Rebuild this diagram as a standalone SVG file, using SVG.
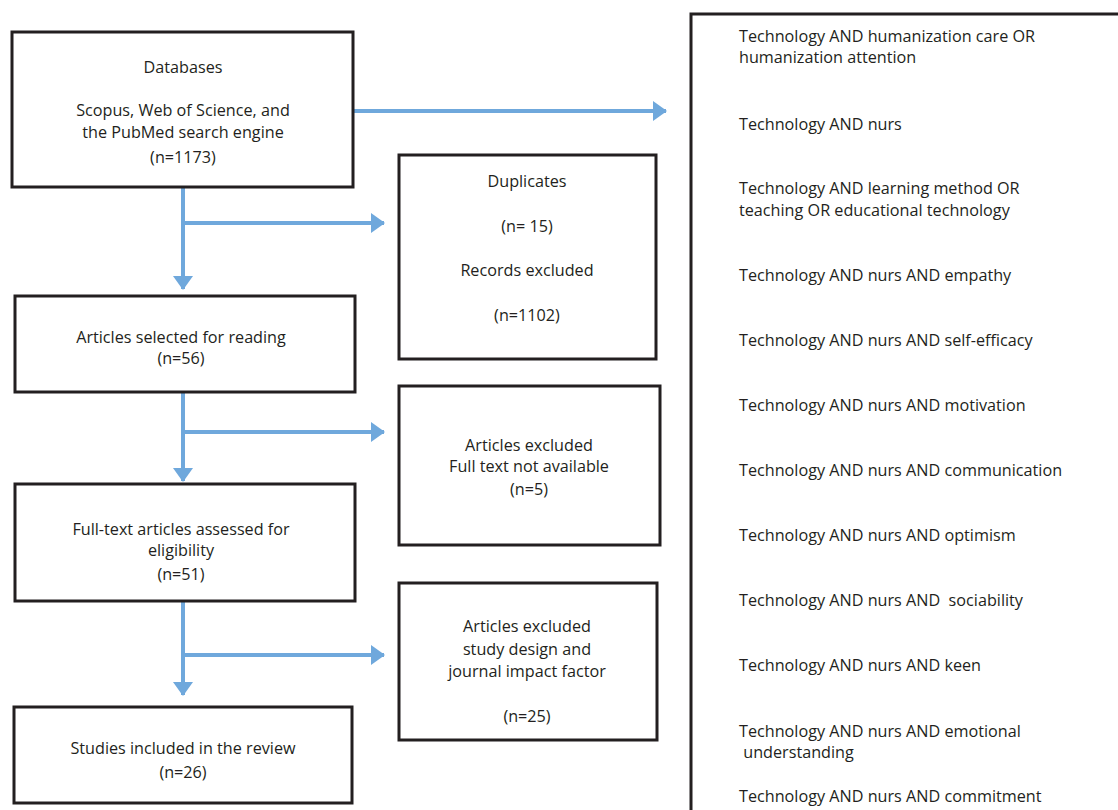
<svg xmlns="http://www.w3.org/2000/svg" width="1118" height="810" viewBox="0 0 1118 810">
<defs>
<style>
.box{fill:#fff;stroke:#231f20;stroke-width:3}
.t{font-family:"Open Sans","Liberation Sans",sans-serif;font-size:16.2px;fill:#231f20}
.c{text-anchor:middle}
.ln{fill:none;stroke:#6fa8dc;stroke-width:4}
</style>
<marker id="ah" markerUnits="userSpaceOnUse" markerWidth="14" markerHeight="20" refX="13" refY="10" orient="auto">
<path d="M0,0 L14,10 L0,20 Z" fill="#6fa8dc"/>
</marker>
</defs>
<rect width="1118" height="810" fill="#fff"/>
<g id="connectors">
<path class="ln" d="M354,111 H666" marker-end="url(#ah)"/>
<path class="ln" d="M183,187 V289" marker-end="url(#ah)"/>
<path class="ln" d="M183,223 H384" marker-end="url(#ah)"/>
<path class="ln" d="M183,392 V481" marker-end="url(#ah)"/>
<path class="ln" d="M183,432 H384" marker-end="url(#ah)"/>
<path class="ln" d="M183,601 V695" marker-end="url(#ah)"/>
<path class="ln" d="M183,655 H384" marker-end="url(#ah)"/>
</g>
<g id="databases">
<rect class="box" x="12" y="32" width="341" height="155"/>
<text class="t c" x="183" y="73">Databases</text>
<text class="t c" x="183" y="116">Scopus, Web of Science, and</text>
<text class="t c" x="183" y="138">the PubMed search engine</text>
<text class="t c" x="183" y="163">(n=1173)</text>
</g>
<g id="duplicates">
<rect class="box" x="399" y="155" width="257" height="204"/>
<text class="t c" x="527" y="187">Duplicates</text>
<text class="t c" x="527" y="232">(n= 15)</text>
<text class="t c" x="527" y="276">Records excluded</text>
<text class="t c" x="527" y="321">(n=1102)</text>
</g>
<g id="selected">
<rect class="box" x="15" y="296" width="340" height="96"/>
<text class="t c" x="181" y="343">Articles selected for reading</text>
<text class="t c" x="181" y="364">(n=56)</text>
</g>
<g id="excluded1">
<rect class="box" x="399" y="386" width="261" height="159"/>
<text class="t c" x="529" y="451">Articles excluded</text>
<text class="t c" x="529" y="472">Full text not available</text>
<text class="t c" x="529" y="495">(n=5)</text>
</g>
<g id="fulltext">
<rect class="box" x="15" y="484" width="340" height="117"/>
<text class="t c" x="181" y="535">Full-text articles assessed for</text>
<text class="t c" x="181" y="556">eligibility</text>
<text class="t c" x="181" y="580">(n=51)</text>
</g>
<g id="excluded2">
<rect class="box" x="399" y="583" width="258" height="157"/>
<text class="t c" x="527" y="632">Articles excluded</text>
<text class="t c" x="527" y="655">study design and</text>
<text class="t c" x="527" y="677">journal impact factor</text>
<text class="t c" x="527" y="722">(n=25)</text>
</g>
<g id="included">
<rect class="box" x="14" y="707" width="338" height="96"/>
<text class="t c" x="183" y="754">Studies included in the review</text>
<text class="t c" x="183" y="778">(n=26)</text>
</g>
<g id="terms">
<rect class="box" x="691" y="14" width="440" height="810"/>
<text class="t" x="739" y="42">Technology AND humanization care OR</text>
<text class="t" x="739" y="63">humanization attention</text>
<text class="t" x="739" y="130">Technology AND nurs</text>
<text class="t" x="739" y="194">Technology AND learning method OR</text>
<text class="t" x="739" y="216">teaching OR educational technology</text>
<text class="t" x="739" y="281">Technology AND nurs AND empathy</text>
<text class="t" x="739" y="346">Technology AND nurs AND self-efficacy</text>
<text class="t" x="739" y="411">Technology AND nurs AND motivation</text>
<text class="t" x="739" y="476">Technology AND nurs AND communication</text>
<text class="t" x="739" y="541">Technology AND nurs AND optimism</text>
<text class="t" x="739" y="606" xml:space="preserve">Technology AND nurs AND  sociability</text>
<text class="t" x="739" y="671">Technology AND nurs AND keen</text>
<text class="t" x="739" y="737">Technology AND nurs AND emotional</text>
<text class="t" x="739" y="758" xml:space="preserve"> understanding</text>
<text class="t" x="739" y="802">Technology AND nurs AND commitment</text>
</g>
</svg>
